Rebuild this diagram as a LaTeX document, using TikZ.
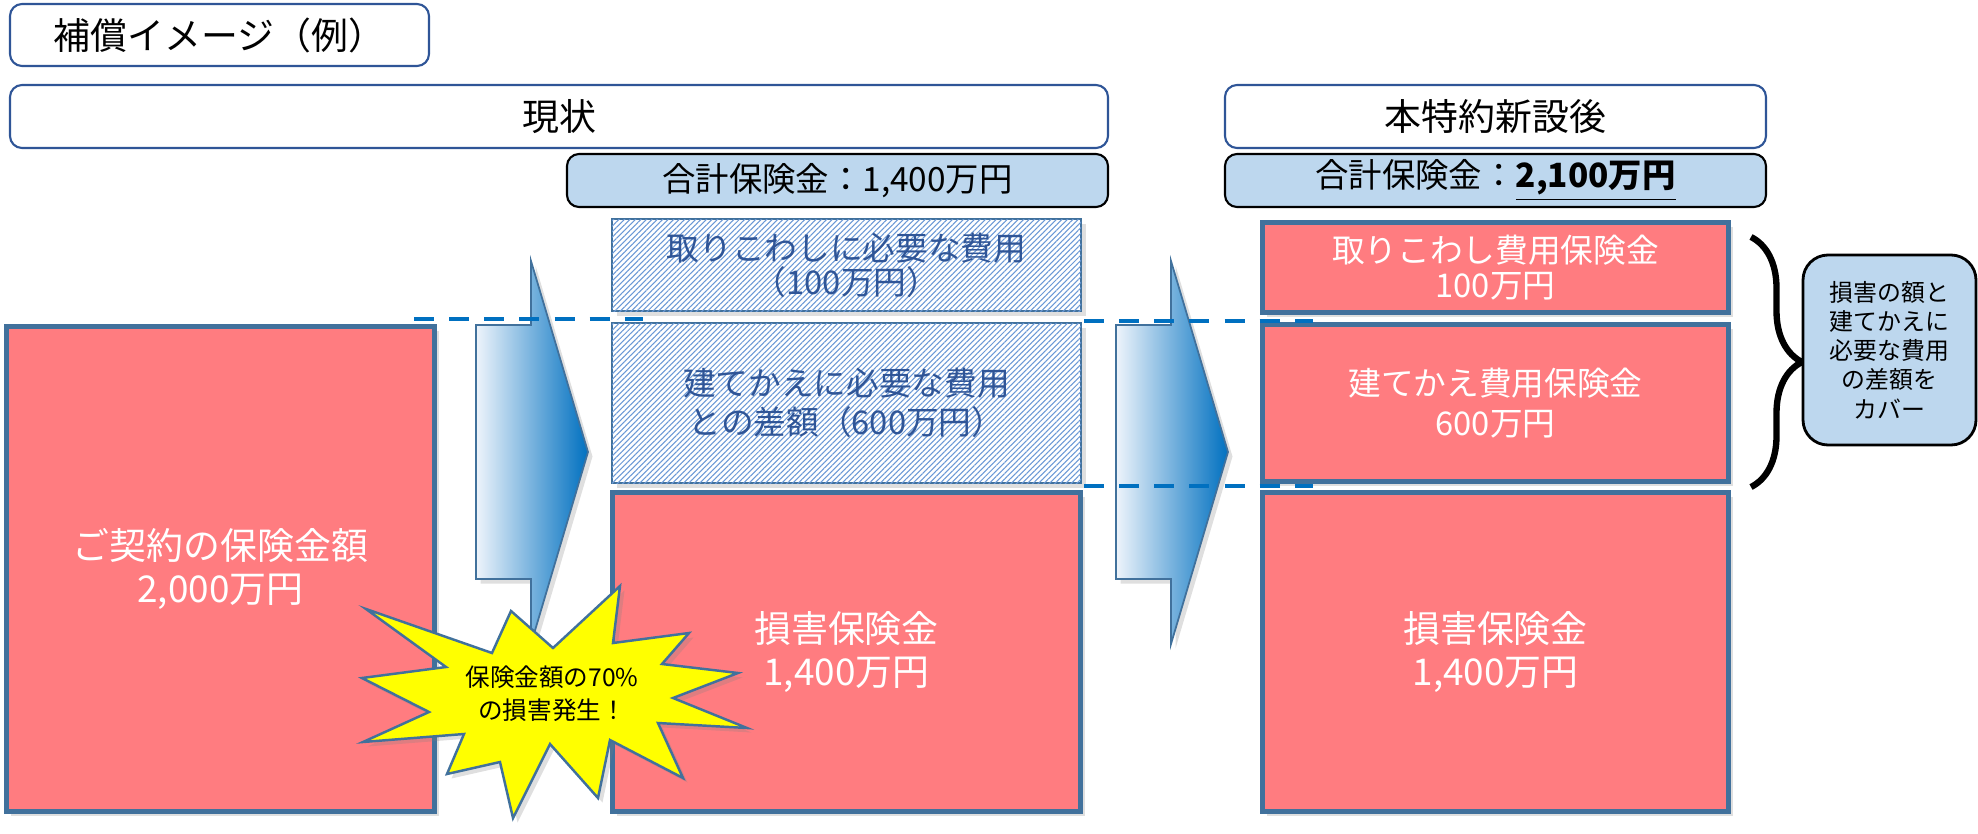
\documentclass[tikz,border=0pt]{standalone}
\usepackage{fontspec}
\setmainfont{Noto Sans CJK JP}
\usetikzlibrary{shadows,patterns.meta,decorations.pathreplacing}
\definecolor{hkred}{HTML}{FF7C80}
\definecolor{hkframe}{HTML}{41719C}
\definecolor{hknavy}{HTML}{2F5597}
\definecolor{hklight}{HTML}{BDD7EE}
\definecolor{hkdash}{HTML}{0070C0}
\definecolor{hkhatch}{HTML}{6A98D6}
\definecolor{hkpale}{HTML}{EEF4FB}
\definecolor{hkmid}{HTML}{9EC4E8}
\definecolor{hkyellow}{HTML}{FFFF00}

\begin{document}
\begin{tikzpicture}[x=0.1mm,y=-0.1mm,
  every node/.style={inner sep=0pt,outer sep=0pt},
  shadowed/.style={drop shadow={shadow xshift=0.45mm,shadow yshift=-0.45mm,opacity=0.25}},
  headbox/.style={draw=hknavy,line width=0.6pt,fill=white,rounded corners=1.2mm,
    font=\fontsize{10.5}{12}\selectfont},
  sumbox/.style={draw=black,line width=0.6pt,fill=hklight,rounded corners=1.2mm,
    font=\fontsize{9.5}{11}\selectfont},
  redbox/.style={draw=hkframe,line width=1.4pt,fill=hkred,text=white,align=center,shadowed},
  hatchbox/.style={draw=hkframe,line width=0.7pt,fill=white,text=hknavy,align=center,shadowed,
    postaction={pattern={Lines[angle=45,distance=1.1pt,line width=0.3pt]},pattern color=hkhatch}},
  blockarrow/.style={draw=hkframe,line width=0.5pt,left color=hkpale,middle color=hkmid,
    right color=hkdash,shadowed},
  guide/.style={draw=hkdash,line width=1.2pt,dash pattern=on 5.7pt off 4.3pt},
  bracket/.style={decorate,decoration={brace,amplitude=5.1mm},line width=1.8pt},
  notebox/.style={draw=black,line width=0.8pt,fill=hklight,rounded corners=2.5mm,align=center,
    font=\fontsize{6.8}{8.3}\selectfont},
  burst/.style={draw=hkframe,line width=0.7pt,fill=hkyellow,shadowed}]

  \useasboundingbox (0,0) rectangle (1978,833);

  % --- headings ---
  \node[headbox,minimum width=41.9mm,minimum height=6.2mm] (title) at (219.5,35)
        {補償イメージ（例）};
  \node[headbox,minimum width=109.8mm,minimum height=6.3mm] (now) at (559,116.5) {現状};
  \node[headbox,minimum width=54.1mm,minimum height=6.3mm] (after) at (1495.5,116.5)
        {本特約新設後};
  \node[sumbox,minimum width=54.1mm,minimum height=5.3mm] (sumnow) at (837.5,180.5)
        {合計保険金：1,400万円};
  \node[sumbox,minimum width=54.1mm,minimum height=5.3mm] (sumafter) at (1495.5,180.5)
        {合計保険金：\underline{\textbf{2,100万円}}};

  % --- contract amount ---
  \node[redbox,minimum width=42.8mm,minimum height=48.5mm,
        font=\fontsize{10.5}{12.2}\selectfont] (contract) at (220.5,569)
        {ご契約の保険金額\\2,000万円};

  % --- block arrows ---
  \foreach \ax in {0,640}
    \draw[blockarrow,shift={(\ax,0)}] (476,325) -- (531,325) -- (531,261) -- (588,452)
      -- (531,644) -- (531,579) -- (476,579) -- cycle;

  % --- present situation ---
  \node[hatchbox,minimum width=46.9mm,minimum height=9.2mm,
        font=\fontsize{9.3}{9.6}\selectfont] (demo) at (846.5,265)
        {取りこわしに必要な費用\\（100万円）};
  \node[hatchbox,minimum width=46.9mm,minimum height=16mm,
        font=\fontsize{9.3}{11}\selectfont] (diff) at (846.5,403)
        {建てかえに必要な費用\\との差額（600万円）};
  \node[redbox,minimum width=46.8mm,minimum height=31.9mm,
        font=\fontsize{10.5}{12.2}\selectfont] (loss) at (846.5,652)
        {損害保険金\\1,400万円};

  % --- after the rider ---
  \node[redbox,minimum width=46.6mm,minimum height=9mm,
        font=\fontsize{9.3}{9.8}\selectfont] (demoins) at (1495.5,267.5)
        {取りこわし費用保険金\\100万円};
  \node[redbox,minimum width=46.6mm,minimum height=15.7mm,
        font=\fontsize{9.3}{11.6}\selectfont] (rebuild) at (1495.5,403)
        {建てかえ費用保険金\\600万円};
  \node[redbox,minimum width=46.6mm,minimum height=31.9mm,
        font=\fontsize{10.5}{12.2}\selectfont] (lossafter) at (1495.5,652)
        {損害保険金\\1,400万円};

  % --- guide lines ---
  \coordinate (gl1) at (414,319);  \coordinate (gr1) at (643,319);
  \coordinate (gl2) at (1084,321); \coordinate (gr2) at (1313,321);
  \coordinate (gl3) at (1084,486); \coordinate (gr3) at (1313,486);
  \draw[guide] (gl1) -- (gr1);
  \draw[guide] (gl2) -- (gr2);
  \draw[guide] (gl3) -- (gr3);

  % --- brace and note ---
  \coordinate (brtop) at (1751,237);
  \coordinate (brbot) at (1751,487);
  \draw[bracket] (brtop) -- (brbot);
  \node[notebox,minimum width=17.3mm,minimum height=19mm] (note) at (1889.5,350)
        {損害の額と\\建てかえに\\必要な費用\\の差額を\\カバー};

  % --- damage burst ---
  \draw[burst] (366,609) -- (492,653) -- (511,611) -- (553,648) -- (620,586) -- (613,643)
    -- (689,633) -- (662,664) -- (738,673) -- (673,698) -- (747,728) -- (658,723)
    -- (683,778) -- (610,740) -- (598,798) -- (550,744) -- (513,818) -- (500,762)
    -- (447,774) -- (464,734) -- (363,742) -- (429,712) -- (362,678) -- (446,667) -- cycle;
  \node[align=center,font=\fontsize{7}{9.4}\selectfont] (burstlbl) at (552,694)
        {保険金額の70\%\\の損害発生！};

\end{tikzpicture}
\end{document}
